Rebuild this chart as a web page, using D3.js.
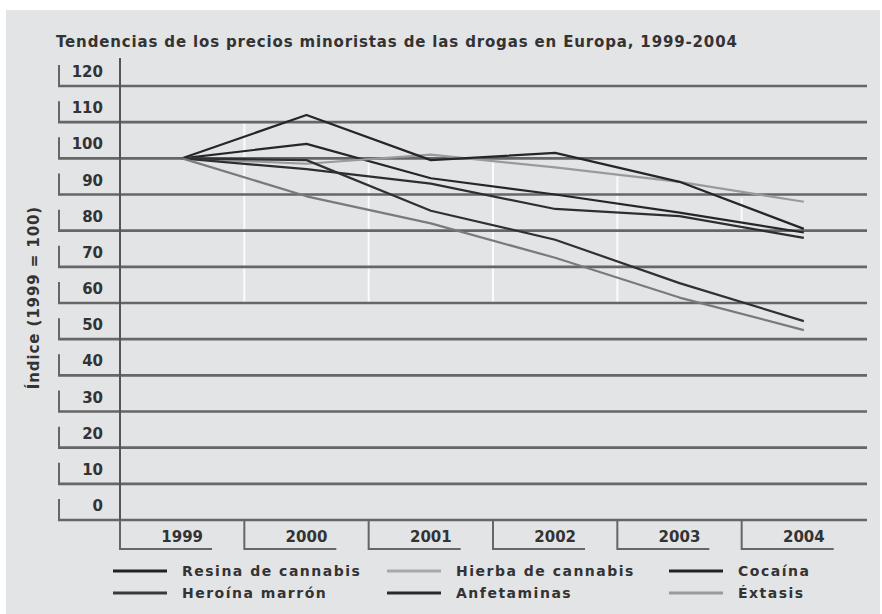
<!DOCTYPE html>
<html>
<head>
<meta charset="utf-8">
<script src="https://cdn.jsdelivr.net/npm/d3@7"></script>
<style>
  html, body { margin: 0; padding: 0; background: #fff; }
  svg { display: block; }
  text { font-family: "DejaVu Sans", "Open Sans", sans-serif; font-weight: bold; fill: #333; }
</style>
</head>
<body>
<svg id="chart" width="882" height="614"></svg>
<script>
// values (index, 1999 = 100)
var years = ["1999", "2000", "2001", "2002", "2003", "2004"];
var yTicks = [0, 10, 20, 30, 40, 50, 60, 70, 80, 90, 100, 110, 120];

var resina      = [100, 104,  94.5, 90,    85,   79.5];
var hierba      = [100,  98.5, 101, 97.5,  93.5, 88];
var cocaina     = [100,  97,   93,  86,    84,   78];
var heroina     = [100,  99.5, 85.5, 77.5, 65.5, 55];
var anfetaminas = [100, 112,   99.5, 101.5, 93.5, 80.5];
var extasis     = [100,  89.5, 82,  72.5,  61.5, 52.5];

var seriesNames = ["Resina de cannabis", "Hierba de cannabis", "Cocaína",
                   "Heroína marrón", "Anfetaminas", "Éxtasis"];

var series = [
  { name: seriesNames[0], values: resina,      color: "#262626", legendColor: "#222" },
  { name: seriesNames[1], values: hierba,      color: "#9a9a9a", legendColor: "#a8a8a8" },
  { name: seriesNames[2], values: cocaina,     color: "#2e2e2e", legendColor: "#222" },
  { name: seriesNames[3], values: heroina,     color: "#303030", legendColor: "#3a3a3a" },
  { name: seriesNames[4], values: anfetaminas, color: "#262626", legendColor: "#2a2a2a" },
  { name: seriesNames[5], values: extasis,     color: "#7a7a7a", legendColor: "#9a9a9a" }
];

var svg = d3.select("#chart");

// gray panel
svg.append("rect")
  .attr("x", 6).attr("y", 10)
  .attr("width", 874).attr("height", 604)
  .attr("fill", "#e3e4e6");

var x = d3.scaleBand().domain(years).range([120, 866]).padding(0);
var y = d3.scaleLinear().domain([0, 120]).range([520, 86]);

var gridColor = "#666";

// title
svg.append("text")
  .attr("x", 56).attr("y", 47)
  .style("font-size", "15px")
  .style("letter-spacing", "0.85px")
  .text("Tendencias de los precios minoristas de las drogas en Europa, 1999-2004");

// y axis title
svg.append("text")
  .attr("transform", "translate(39," + y(61.5) + ") rotate(-90)")
  .attr("text-anchor", "middle")
  .style("font-size", "15px")
  .style("letter-spacing", "0.9px")
  .text("Índice (1999 = 100)");

// white guides behind the lines
var guides = [[1, 110, 60], [2, 100, 60], [3, 100, 60], [4, 95, 60], [5, 89, 80]];
svg.append("g").selectAll("line")
  .data(guides)
  .enter().append("line")
  .attr("x1", function(d) { return x(years[d[0]]); })
  .attr("x2", function(d) { return x(years[d[0]]); })
  .attr("y1", function(d) { return y(d[1]); })
  .attr("y2", function(d) { return y(d[2]); })
  .attr("stroke", "#fff")
  .attr("stroke-opacity", 0.85)
  .attr("stroke-width", 2);

// horizontal grid + bracket ticks
var yAxis = svg.append("g").attr("class", "y-axis");
var tick = yAxis.selectAll("g.tick")
  .data(yTicks)
  .enter().append("g")
  .attr("class", "tick")
  .attr("transform", function(d) { return "translate(0," + y(d) + ")"; });

tick.append("line")
  .attr("x1", 58).attr("x2", x.range()[1] + 1)
  .attr("stroke", gridColor)
  .attr("stroke-width", 2.6);

tick.append("line")
  .attr("x1", 59).attr("x2", 59)
  .attr("y1", -21).attr("y2", 0)
  .attr("stroke", gridColor)
  .attr("stroke-width", 2);

tick.append("text")
  .attr("x", 103).attr("y", -9)
  .attr("text-anchor", "end")
  .style("font-size", "15px")
  .text(function(d) { return d; });

// vertical axis line
svg.append("line")
  .attr("x1", 120).attr("x2", 120)
  .attr("y1", 58).attr("y2", 550)
  .attr("stroke", "#555")
  .attr("stroke-width", 2);

// x brackets
var bw = x.bandwidth();
var xAxis = svg.append("g").attr("class", "x-axis");
var xt = xAxis.selectAll("g.tick")
  .data(years)
  .enter().append("g")
  .attr("class", "tick")
  .attr("transform", function(d) { return "translate(" + x(d) + ",0)"; });

xt.append("path")
  .attr("d", "M0," + y(0) + "V549H" + (bw * 0.74))
  .attr("fill", "none")
  .attr("stroke", gridColor)
  .attr("stroke-width", 2);

xt.append("text")
  .attr("x", bw / 2).attr("y", 542)
  .attr("text-anchor", "middle")
  .style("font-size", "15px")
  .text(function(d) { return d; });

// data lines
var line = d3.line()
  .x(function(d, i) { return x(years[i]) + bw / 2; })
  .y(function(d) { return y(d); });

svg.append("g").selectAll("path")
  .data(series)
  .enter().append("path")
  .attr("d", function(d) { return line(d.values); })
  .attr("fill", "none")
  .attr("stroke", function(d) { return d.color; })
  .attr("stroke-width", 2.2)
  .attr("stroke-linejoin", "round");

// legend, 3 columns x 2 rows
var legendCols = [113, 387, 669];
var legendRows = [571, 593];
var legend = svg.append("g").selectAll("g")
  .data(series)
  .enter().append("g")
  .attr("transform", function(d, i) {
    return "translate(" + legendCols[i % 3] + "," + legendRows[Math.floor(i / 3)] + ")";
  });

legend.append("line")
  .attr("x1", 0).attr("x2", 54)
  .attr("stroke", function(d) { return d.legendColor; })
  .attr("stroke-width", 3);

legend.append("text")
  .attr("x", 69).attr("y", 5)
  .style("font-size", "14px")
  .style("letter-spacing", "1.5px")
  .text(function(d) { return d.name; });
</script>
</body>
</html>
